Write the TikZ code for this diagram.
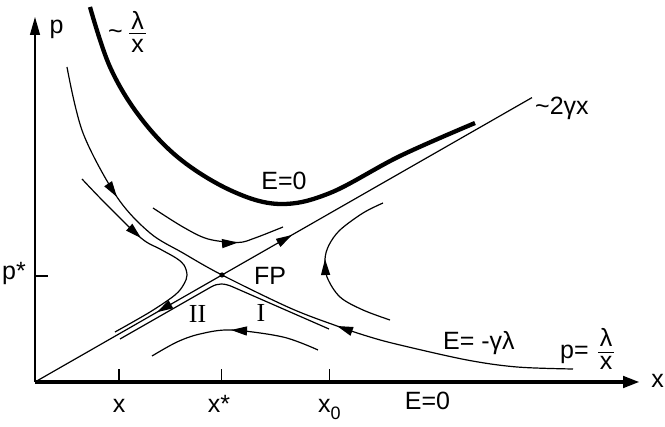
\documentclass[tikz,border=0pt]{standalone}
\usepackage{fontspec}
\setmainfont{Liberation Sans}
\newfontfamily\serifI{Liberation Serif}
\usetikzlibrary{arrows.meta}
\begin{document}
\begin{tikzpicture}[x=1pt,y=-1pt,
  thinln/.style={line width=1.2pt},
  thickln/.style={line width=4.3pt},
  tipln/.style={line width=1.2pt,-{Triangle[length=16pt,width=9pt]}},
  lbl/.style={inner sep=0pt,font=\fontsize{25}{30}\selectfont},
  rom/.style={inner sep=0pt,font=\serifI\fontsize{26}{30}\selectfont}]
\useasboundingbox (0,0) rectangle (665,427);
% key points
\coordinate (O) at (35,382);
\coordinate (FP) at (222,275);
\coordinate (Dend) at (532,97.6);
\coordinate (Yend) at (35,17);
\coordinate (Xend) at (640,382);
% axes
\draw[thinln,-{Triangle[length=18pt,width=10pt]}] (O) -- (Yend);
\draw[thinln] (35,276) -- (48,276);
\draw[thinln] (119,382) -- (119,369);
\draw[thinln] (221.7,382) -- (221.7,369);
\draw[thinln] (329.5,382) -- (329.5,369);
\draw[thickln,-{Triangle[length=17pt,width=11pt]}] (O) -- (Xend);
% unstable manifold ~2 gamma x
\draw[thinln] (O) -- (Dend);
\draw[tipln] (278,243.0) -- (292,235.0);
\draw[tipln] (171,304.2) -- (157,312.2);
% stable manifold through FP
\draw[thinln] plot[smooth,tension=0.55] coordinates {(67,67) (83,133) (117,197) (150,233) (183,253) (222,275) (290,308) (337,326) (370,337) (400,345) (467,360) (517,367) (573,369)};
\draw[tipln] (108.1,183.7) -- (117,197);
\draw[tipln] (352,331.4) -- (337,326);
% left hyperbola
\draw[thinln] plot[smooth,tension=0.55] coordinates {(82,179) (105,203) (141,238) (160,249) (176,258) (184,265) (187,275) (184,284) (175,295) (150,312) (115,332)};
\draw[tipln] (129,227) -- (141,238);
% upper hyperbola
\draw[thinln] plot[smooth,tension=0.55] coordinates {(153,208) (183,227) (208,239) (238,242.5) (255,238) (283,227)};
\draw[tipln] (222,243.6) -- (238,242.5);
% right hyperbola
\draw[thinln] plot[smooth,tension=0.55] coordinates {(383,203) (363,213) (340,230) (329,245) (325,259) (327,277) (340,297) (363,310) (390,320)};
\draw[tipln] (325.6,275) -- (325,259);
% bottom curve
\draw[thinln] plot[smooth,tension=0.55] coordinates {(152,356) (177,342) (200,334) (231,330) (283,337) (318,350)};
\draw[tipln] (247,331) -- (231,330);
% trajectory just below the separatrices
\draw[thinln] (120,339) -- (211,287) .. controls (218,283) and (224,283) .. (233,287) -- (329,329);
% fixed point
\fill (FP) circle (2.6pt);
% thick E=0 curve
\draw[thickln] plot[smooth,tension=0.6] coordinates {(90,7) (110,67) (140,117) (180,159) (232,191) (280,204) (330,193) (400,156) (475,123)};
% labels
\node[lbl,anchor=base] (plbl) at (56.5,34) {p};
\node[lbl,anchor=base west] (pstar) at (2,280) {p*};
\node[lbl,anchor=base] (xlbl) at (657.5,388) {x};
\node[lbl,anchor=base] (tx) at (119,413) {x};
\node[lbl,anchor=base] (txs) at (219,413) {x*};
\node[lbl,anchor=base west] (tx0) at (318,413) {x\raisebox{-7pt}{\fontsize{18}{20}\selectfont 0}};
\node[lbl,anchor=base] (ezb) at (427.5,410) {E=0};
\node[lbl,anchor=base] (ezt) at (284,190) {E=0};
\node[lbl,anchor=base west] (fp) at (254,285) {FP};
\node[rom,anchor=base] (two) at (197.5,323) {II};
\node[rom,anchor=base] (one) at (261,322) {I};
\node[lbl,anchor=base west] (egl) at (443,350) {E= -γλ};
\node[lbl,anchor=base west] (pe) at (560,359) {p=};
\node[lbl,anchor=base] (pnum) at (606,347) {λ};
\draw[thinln] (598,352.3) -- (614,352.3);
\node[lbl,anchor=base] (pden) at (606,370) {x};
\node[lbl,anchor=base west] (tl) at (108,40) {\textasciitilde};
\node[lbl,anchor=base] (lnum) at (137.5,30) {λ};
\draw[thinln] (129,33.3) -- (146,33.3);
\node[lbl,anchor=base] (lden) at (137.5,53) {x};
\node[lbl,anchor=base west] (twogx) at (535,115) {\textasciitilde 2γx};
\end{tikzpicture}
\end{document}
